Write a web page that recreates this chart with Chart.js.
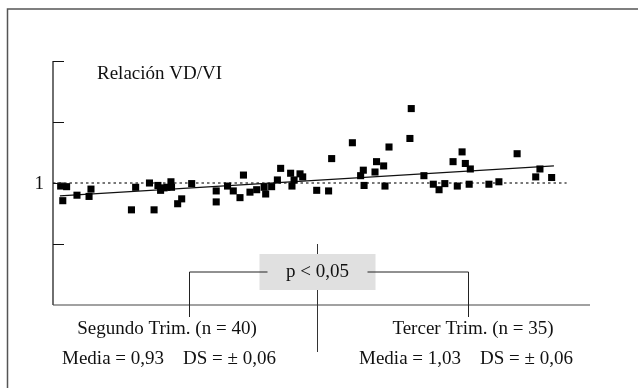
<!DOCTYPE html>
<html>
<head>
<meta charset="utf-8">
<script src="https://cdn.jsdelivr.net/npm/chart.js@4/dist/chart.umd.min.js"></script>
<style>
    html, body { margin: 0; padding: 0; background: #fff; overflow: hidden; }
    #wrap { width: 638px; height: 388px; }
</style>
</head>
<body>
<div id="wrap"><canvas id="vdvi-chart"></canvas></div>
<script>
// Gestational age (weeks) and VD/VI ratio for each study
const weeks = [14.40, 14.71, 14.51, 15.25, 15.88, 15.98, 18.09, 18.31, 19.03, 19.27,
    19.47, 19.61, 19.79, 19.94, 20.15, 20.18, 20.50, 20.71, 21.23, 22.51,
    22.51, 23.10, 23.40, 23.75, 23.93, 24.27, 24.62, 25.01, 25.09, 25.40,
    25.70, 25.87, 26.39, 26.46, 26.57, 26.88, 27.02, 27.75, 28.37, 28.53,
    29.61, 30.04, 30.18, 30.22, 30.79, 30.87, 31.24, 31.31, 31.52, 32.61,
    32.68, 33.34, 33.83, 34.13, 34.43, 34.86, 35.08, 35.33, 35.50, 35.70,
    35.76, 36.73, 37.25, 38.20, 39.17, 39.39, 40.00];
const ratio = [0.995, 0.994, 0.971, 0.980, 0.978, 0.990, 0.956, 0.993, 1.000, 0.956,
    0.996, 0.988, 0.992, 0.993, 1.002, 0.993, 0.966, 0.974, 0.999, 0.987,
    0.969, 0.995, 0.987, 0.976, 1.013, 0.985, 0.989, 0.993, 0.982, 0.994,
    1.005, 1.024, 1.016, 0.995, 1.005, 1.015, 1.010, 0.988, 0.987, 1.040,
    1.066, 1.012, 1.021, 0.996, 1.018, 1.035, 1.028, 0.995, 1.059, 1.073,
    1.122, 1.012, 0.998, 0.989, 0.999, 1.035, 0.995, 1.051, 1.032, 0.998,
    1.023, 0.998, 1.002, 1.048, 1.010, 1.023, 1.009];

// Regression line end points
const trendWeeks = [14.36, 40.12];
const trendRatio = [0.979, 1.028];

// Reference line at ratio = 1
const refWeeks = [14, 40.78];
const refRatio = [1, 1];

const yTicks = [0.9, 1.0, 1.1, 1.2];
const yTickLabels = { 1: '1' };
const trimesterSplit = 27.75;
const groupLabels = ['Segundo Trim. (n = 40)', 'Tercer Trim. (n = 35)'];
const groupStats = ['Media = 0,93    DS = \u00b1 0,06', 'Media = 1,03    DS = \u00b1 0,06'];
const pLabel = 'p < 0,05';
const yTitle = 'Relación VD/VI';

const FONT = '19px "Liberation Serif", "Times New Roman", serif';

function toPoints(xs, ys) {
    return xs.map((x, i) => ({ x: x, y: ys[i] }));
}

// Axes, frame, captions and the p-value bracket
const decorations = {
    id: 'decorations',
    afterDatasetsDraw(chart) {
        const ctx = chart.ctx;
        const area = chart.chartArea;
        const xs = chart.scales.x;
        const ys = chart.scales.y;
        ctx.save();

        // outer frame (left and top edges)
        ctx.strokeStyle = '#555';
        ctx.lineWidth = 1.5;
        ctx.beginPath();
        ctx.moveTo(7.5, 400);
        ctx.lineTo(7.5, 9);
        ctx.lineTo(660, 9);
        ctx.stroke();

        // y axis with inward ticks
        ctx.strokeStyle = '#111';
        ctx.lineWidth = 1.2;
        ctx.beginPath();
        ctx.moveTo(area.left, area.bottom);
        ctx.lineTo(area.left, area.top);
        yTicks.forEach(v => {
            const py = Math.round(ys.getPixelForValue(v)) + 0.5;
            ctx.moveTo(area.left, py);
            ctx.lineTo(area.left + 11, py);
        });
        ctx.stroke();

        // x axis
        ctx.strokeStyle = '#444';
        ctx.beginPath();
        ctx.moveTo(area.left, area.bottom);
        ctx.lineTo(area.right, area.bottom);
        ctx.stroke();

        ctx.fillStyle = '#111';
        ctx.font = FONT;
        ctx.textBaseline = 'middle';
        ctx.textAlign = 'right';
        Object.keys(yTickLabels).forEach(v => {
            ctx.fillText(yTickLabels[v], area.left - 9, ys.getPixelForValue(+v) + 1);
        });
        ctx.textAlign = 'left';
        ctx.fillText(yTitle, area.left + 44, 74);

        // trimester divider
        const splitX = Math.round(xs.getPixelForValue(trimesterSplit)) + 0.5;
        ctx.strokeStyle = '#333';
        ctx.lineWidth = 1;
        ctx.beginPath();
        ctx.moveTo(splitX, ys.getPixelForValue(0.9));
        ctx.lineTo(splitX, area.bottom + 47);
        ctx.stroke();

        // p-value box
        const boxY = area.bottom - 51;
        ctx.fillStyle = '#e0e0e0';
        ctx.fillRect(splitX - 58, boxY, 116, 36);
        ctx.fillStyle = '#111';
        ctx.textAlign = 'center';
        ctx.fillText(pLabel, splitX, boxY + 18);

        // brackets down to each group
        const midY = boxY + 18;
        const leftX = Math.round(xs.getPixelForValue(21.09)) + 0.5;
        const rightX = Math.round(xs.getPixelForValue(35.62)) + 0.5;
        ctx.strokeStyle = '#222';
        ctx.beginPath();
        ctx.moveTo(splitX - 50, midY);
        ctx.lineTo(leftX, midY);
        ctx.lineTo(leftX, area.bottom + 12);
        ctx.moveTo(splitX + 50, midY);
        ctx.lineTo(rightX, midY);
        ctx.lineTo(rightX, area.bottom + 12);
        ctx.stroke();

        // group captions
        ctx.fillText(groupLabels[0], 167, area.bottom + 24);
        ctx.fillText(groupStats[0], 169, area.bottom + 54);
        ctx.fillText(groupLabels[1], 473, area.bottom + 24);
        ctx.fillText(groupStats[1], 466, area.bottom + 54);

        ctx.restore();
    }
};

const ctx = document.getElementById('vdvi-chart').getContext('2d');
const vdviChart = new Chart(ctx, {
    type: 'scatter',
    data: {
        datasets: [{
            label: 'VD/VI',
            data: toPoints(weeks, ratio),
            pointStyle: 'rect',
            pointRadius: 5,
            pointBorderWidth: 0,
            backgroundColor: '#000',
            borderColor: '#000',
            order: 0
        }, {
            type: 'line',
            label: 'Regresión',
            data: toPoints(trendWeeks, trendRatio),
            borderColor: '#111',
            borderWidth: 1.3,
            pointRadius: 0,
            fill: false,
            order: 1
        }, {
            type: 'line',
            label: 'Referencia',
            data: toPoints(refWeeks, refRatio),
            borderColor: '#777',
            borderWidth: 2,
            borderDash: [2.5, 3],
            pointRadius: 0,
            fill: false,
            order: 2
        }]
    },
    options: {
        responsive: true,
        maintainAspectRatio: false,
        animation: false,
        layout: {
            padding: { left: 53, right: 48, top: 61, bottom: 83 }
        },
        plugins: {
            legend: { display: false },
            tooltip: { enabled: false }
        },
        scales: {
            x: { type: 'linear', min: 14, max: 42, display: false },
            y: { type: 'linear', min: 0.8, max: 1.2, display: false }
        }
    },
    plugins: [decorations]
});
</script>
</body>
</html>
